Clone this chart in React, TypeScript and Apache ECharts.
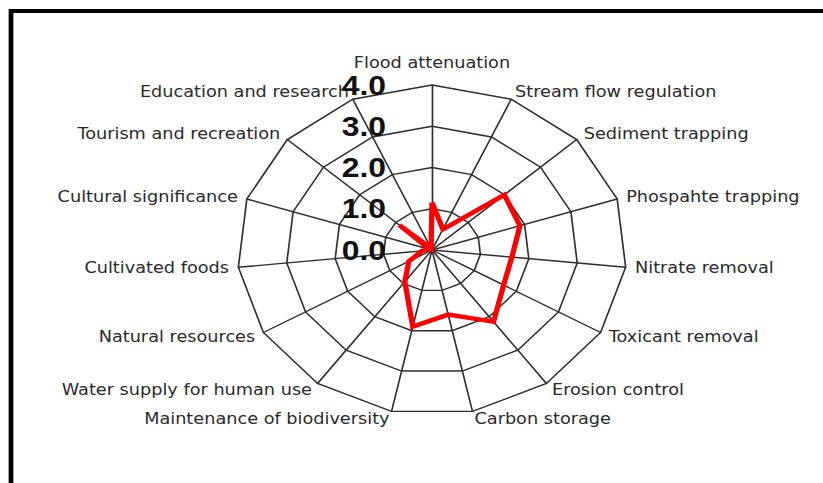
import React, { useEffect, useRef } from "react";
import * as echarts from "echarts";

const indicators = [
  "Flood attenuation",
  "Stream flow regulation",
  "Sediment trapping",
  "Phospahte trapping",
  "Nitrate removal",
  "Toxicant removal",
  "Erosion control",
  "Carbon storage",
  "Maintenance of biodiversity",
  "Water supply for human use",
  "Natural resources",
  "Cultivated foods",
  "Cultural significance",
  "Tourism and recreation",
  "Education and research",
];
const values = [1.15, 0.55, 2.0, 1.9, 1.65, 1.7, 2.15, 1.6, 1.9, 0.95, 0.55, 0.2, 0.05, 0.9, 0.05];
const axisMin = 0;
const axisMax = 4;
const splitCount = 4;

const STRETCH = 1.18;
const PAGE_W = 823;
const PAGE_H = 483;

// ECharts lays radar indicators out counter-clockwise; keep the first one at
// the top and reverse the rest so the chart reads clockwise.
function clockwise<T>(arr: T[]): T[] {
  return [arr[0], ...arr.slice(1).reverse()];
}

export default function App() {
  const ref = useRef<HTMLDivElement>(null);
  useEffect(() => {
    if (!ref.current) return;
    const chart = echarts.init(ref.current, undefined, { renderer: "svg" });
    const names = clockwise(indicators);
    const vals = clockwise(values);
    chart.setOption({
      animation: false,
      backgroundColor: "#ffffff",
      graphic: [
        {
          type: "rect",
          shape: { x: 11 / STRETCH, y: 11, width: 2000, height: 2000 },
          style: { fill: "none", stroke: "#000000", lineWidth: 4 },
          z: 100,
        },
      ],
      radar: {
        center: [432 / STRETCH, 250],
        radius: 165,
        startAngle: 90,
        splitNumber: splitCount,
        shape: "polygon",
        nameGap: 8,
        indicator: names.map((name, i) => ({
          name,
          min: axisMin,
          max: axisMax,
          ...(i === 0 ? { axisLabel: { show: true } } : {}),
        })),
        axisName: {
          color: "#2a2a2a",
          fontFamily: "DejaVu Sans",
          fontSize: 15,
          lineHeight: 18,
        },
        axisLine: { lineStyle: { color: "#2e2e2e", width: 1.4 } },
        splitLine: { lineStyle: { color: "#2e2e2e", width: 1.4 } },
        splitArea: { show: false },
        axisTick: { show: false },
        axisLabel: {
          show: false,
          fontSize: 27,
          fontWeight: "bold",
          color: "#111111",
          fontFamily: "Liberation Sans",
          margin: 39,
          formatter: (v: number) => v.toFixed(1),
        },
      },
      series: [
        {
          type: "radar",
          symbol: "none",
          data: [{ value: vals }],
          itemStyle: { color: "#ff0000" },
          lineStyle: { color: "#ff0000", width: 4.5, join: "miter" },
          z: 3,
        },
      ],
    });
    return () => chart.dispose();
  }, []);
  return (
    <div
      style={{
        position: "absolute",
        left: 0,
        top: 0,
        width: PAGE_W,
        height: PAGE_H,
        overflow: "hidden",
        background: "#ffffff",
      }}
    >
      <div
        ref={ref}
        style={{
          width: Math.ceil(PAGE_W / STRETCH) + 2,
          height: PAGE_H,
          transform: `scaleX(${STRETCH})`,
          transformOrigin: "0 0",
        }}
      />
    </div>
  );
}
